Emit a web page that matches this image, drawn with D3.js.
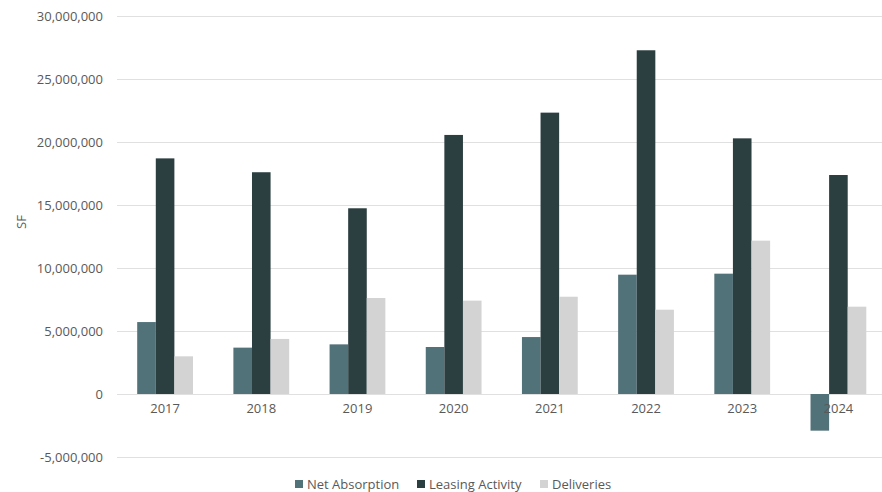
<!DOCTYPE html>
<html>
<head>
<meta charset="utf-8">
<script src="https://cdn.jsdelivr.net/npm/d3@7"></script>
<style>
  html, body { margin: 0; padding: 0; background: #fff; }
  svg { display: block; font-family: "Open Sans", "Noto Sans", sans-serif; }
</style>
</head>
<body>
<svg id="chart" width="882" height="492"></svg>
<script>
const years = ["2017", "2018", "2019", "2020", "2021", "2022", "2023", "2024"];
const seriesNames = ["Net Absorption", "Leasing Activity", "Deliveries"];
const netAbsorption = [5710000, 3680000, 3940000, 3730000, 4520000, 9470000, 9550000, -2910000];
const leasingActivity = [18700000, 17600000, 14740000, 20560000, 22330000, 27280000, 20290000, 17380000];
const deliveries = [2990000, 4370000, 7620000, 7410000, 7720000, 6690000, 12170000, 6930000];
const yTicks = [-5000000, 0, 5000000, 10000000, 15000000, 20000000, 25000000, 30000000];
const colors = ["#52727a", "#2b3e40", "#d3d3d3"];

const svg = d3.select("#chart");

const y = d3.scaleLinear().domain([-5000000, 30000000]).range([457, 16]);
const x0 = d3.scaleBand().domain(years).range([117, 886.5]).paddingInner(0).paddingOuter(0);
const groupFrac = 0.58;
const x1 = d3.scaleBand().domain(seriesNames).range([0, x0.bandwidth() * groupFrac]);
const groupOffset = (x0.bandwidth() - x0.bandwidth() * groupFrac) / 2;

// gridlines
svg.append("g")
  .selectAll("line")
  .data(yTicks)
  .join("line")
  .attr("x1", 117).attr("x2", 882)
  .attr("y1", d => Math.round(y(d)) + 0.5).attr("y2", d => Math.round(y(d)) + 0.5)
  .attr("stroke", "#e0e0e0").attr("stroke-width", 1);

// y axis labels
const yAxis = d3.axisLeft(y).tickValues(yTicks).tickSize(0).tickPadding(14)
  .tickFormat(d => d3.format(",")(d).replace("\u2212", "-"));
const yg = svg.append("g").attr("transform", "translate(117,0)").call(yAxis);
yg.select(".domain").remove();
yg.selectAll("text").attr("fill", "#595959").style("font-size", "13px")
  .style("font-family", "'Open Sans', sans-serif");

// axis title
svg.append("text")
  .attr("transform", "translate(26,222) rotate(-90)")
  .attr("text-anchor", "middle")
  .attr("fill", "#595959")
  .style("font-size", "13px")
  .text("SF");

// bars
const data = years.map((yr, i) => ({
  year: yr,
  values: [netAbsorption[i], leasingActivity[i], deliveries[i]]
}));

const groups = svg.append("g").selectAll("g")
  .data(data)
  .join("g")
  .attr("transform", d => `translate(${x0(d.year) + groupOffset},0)`);

groups.selectAll("rect")
  .data(d => d.values.map((v, j) => ({ name: seriesNames[j], v, j })))
  .join("rect")
  .attr("x", d => x1(d.name))
  .attr("width", x1.bandwidth())
  .attr("y", d => y(Math.max(0, d.v)))
  .attr("height", d => Math.abs(y(d.v) - y(0)))
  .attr("fill", d => colors[d.j]);

// x axis labels
const xAxis = d3.axisBottom(x0).tickSize(0).tickPadding(10);
const xg = svg.append("g").attr("transform", `translate(0,${y(0)})`).call(xAxis);
xg.select(".domain").remove();
xg.selectAll("text").attr("fill", "#595959").style("font-size", "13px")
  .style("font-family", "'Open Sans', sans-serif");

// legend
const legendItems = [
  { name: seriesNames[0], color: colors[0], x: 295 },
  { name: seriesNames[1], color: colors[1], x: 417 },
  { name: seriesNames[2], color: colors[2], x: 540 }
];
const lg = svg.append("g").selectAll("g").data(legendItems).join("g")
  .attr("transform", d => `translate(${d.x},484)`);
lg.append("rect").attr("x", 0).attr("y", -4).attr("width", 8).attr("height", 8)
  .attr("fill", d => d.color);
lg.append("text").attr("x", 12).attr("y", 0).attr("dy", "0.35em")
  .attr("fill", "#595959").style("font-size", "13px").text(d => d.name);
</script>
</body>
</html>
